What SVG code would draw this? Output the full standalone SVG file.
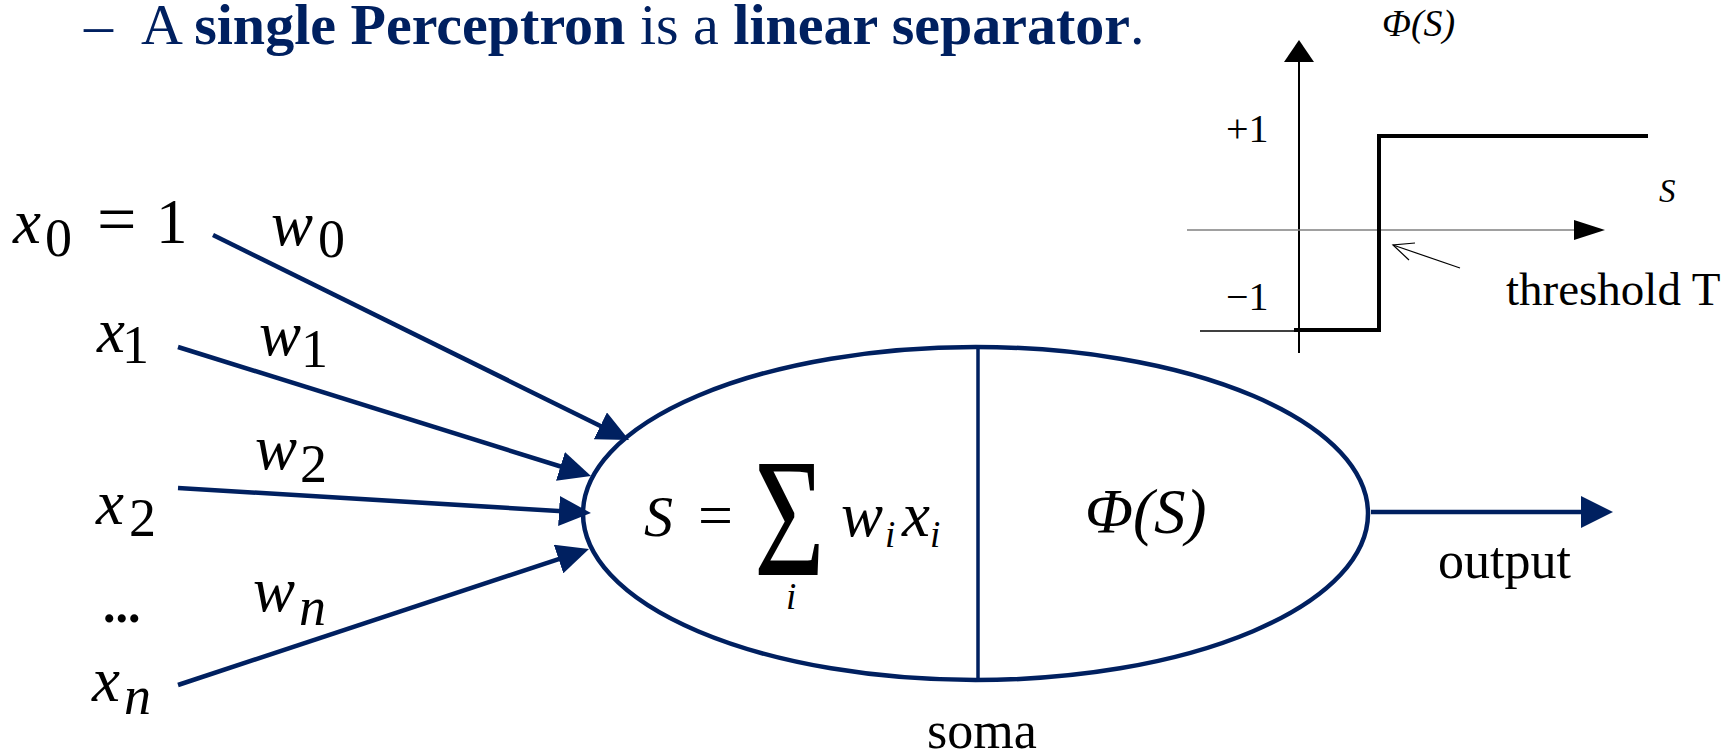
<svg xmlns="http://www.w3.org/2000/svg" width="1735" height="756" viewBox="0 0 1735 756">
<style>
.title{font-family:"Liberation Serif",serif;font-size:58px;fill:#002060}
.b{font-weight:bold}
.m{font-family:"Liberation Serif",serif;font-style:italic;font-size:63px;fill:#000}
.u{font-family:"Liberation Serif",serif;font-size:63px;fill:#000}
.s{font-family:"Liberation Serif",serif;font-size:54px;fill:#000}
.si{font-family:"Liberation Serif",serif;font-style:italic;font-size:54px;fill:#000}
.fi{font-family:"Liberation Serif",serif;font-style:italic;font-size:37px;fill:#000}
.lbl{font-family:"Liberation Serif",serif;font-size:52px;fill:#000}
.conn{stroke:#002060;stroke-width:4.5;fill:none}
.ax{stroke:#000;stroke-width:2;fill:none}
</style>
<defs>
<marker id="ah" markerUnits="userSpaceOnUse" markerWidth="32" markerHeight="30" refX="12" refY="15" orient="auto"><path d="M0,0 L32,15 L0,30 z" fill="#002060"/></marker>
<marker id="ah2" markerUnits="userSpaceOnUse" markerWidth="32" markerHeight="32" refX="12" refY="16" orient="auto"><path d="M0,0 L32,16 L0,32 z" fill="#002060"/></marker>
</defs>
<rect width="1735" height="756" fill="#fff"/>
<g id="title">
<text class="title" x="84" y="44">–</text>
<text class="title" x="141" y="44">A <tspan class="b">single Perceptron</tspan> is a <tspan class="b">linear separator</tspan>.</text>
</g>
<g id="connectors">
<line class="conn" x1="213" y1="235" x2="611.1" y2="431.2" marker-end="url(#ah)"/>
<line class="conn" x1="178" y1="347" x2="571.9" y2="470" marker-end="url(#ah)"/>
<line class="conn" x1="178" y1="488" x2="571" y2="511.8" marker-end="url(#ah)"/>
<line class="conn" x1="178" y1="685" x2="570" y2="555.3" marker-end="url(#ah)"/>
<line class="conn" x1="1371" y1="512" x2="1593" y2="512" marker-end="url(#ah2)"/>
</g>
<g id="input-x0">
<text class="m" x="13" y="243">x</text><text class="s" x="45" y="256">0</text>
<text class="u" x="97" y="243" style="font-size:70px">=</text><text class="u" x="156" y="243">1</text>
</g>
<g id="input-x1"><text class="m" x="97" y="352">x</text><text class="s" x="122" y="363">1</text></g>
<g id="input-x2"><text class="m" x="96" y="524">x</text><text class="s" x="129" y="536">2</text></g>
<g id="input-dots"><text x="103" y="622" style="font-family:'Liberation Serif',serif;font-weight:bold;font-size:50px">...</text></g>
<g id="input-xn"><text class="m" x="92" y="701">x</text><text class="si" x="124" y="714">n</text></g>
<g id="weight-w0"><text class="m" x="271" y="245">w</text><text class="s" x="318" y="257">0</text></g>
<g id="weight-w1"><text class="m" x="259" y="355">w</text><text class="s" x="301" y="367">1</text></g>
<g id="weight-w2"><text class="m" x="255" y="469">w</text><text class="s" x="300" y="482">2</text></g>
<g id="weight-wn"><text class="m" x="253" y="611">w</text><text class="si" x="299" y="625">n</text></g>
<g id="soma">
<ellipse cx="975.5" cy="513.5" rx="392.5" ry="166.5" fill="none" stroke="#002060" stroke-width="4.5"/>
<line x1="978" y1="347" x2="978" y2="680" stroke="#002060" stroke-width="3.5"/>
<text class="m" x="644" y="536" style="font-size:58px">S</text>
<text class="u" x="698" y="536" style="font-size:62px">=</text>
<text transform="translate(754,575) scale(0.72,1)" style="font-family:'Liberation Serif',serif;font-size:169px">Σ</text>
<text class="fi" x="786" y="609">i</text>
<text class="m" x="841" y="536">w</text><text class="fi" x="885" y="547">i</text>
<text class="m" x="902" y="536">x</text><text class="fi" x="930" y="547">i</text>
<text class="m" x="1085" y="533">Φ(S)</text>
<text class="lbl" x="927" y="748">soma</text>
</g>
<g id="output-label"><text class="lbl" x="1438" y="578">output</text></g>
<g id="graph">
<line class="ax" x1="1299" y1="353" x2="1299" y2="60"/>
<polygon points="1299,40 1284,62 1314,62" fill="#000"/>
<line x1="1187" y1="230" x2="1575" y2="230" stroke="#808080" stroke-width="1.3"/>
<polygon points="1605,230 1574,220 1574,240" fill="#000"/>
<line x1="1200" y1="331" x2="1296" y2="331" stroke="#000" stroke-width="1.5"/>
<polyline points="1294,330 1379,330 1379,136 1648,136" fill="none" stroke="#000" stroke-width="4"/>
<line x1="1460" y1="268" x2="1393" y2="245" stroke="#000" stroke-width="1.2"/>
<polyline points="1409,260 1393,245 1415,243" fill="none" stroke="#000" stroke-width="1.2"/>
<text x="1382" y="36" style="font-family:'Liberation Serif',serif;font-style:italic;font-size:38px">Φ(S)</text>
<text x="1226" y="142" style="font-family:'Liberation Serif',serif;font-size:40px">+1</text>
<text x="1226" y="310" style="font-family:'Liberation Serif',serif;font-size:40px">−1</text>
<text x="1659" y="202" style="font-family:'Liberation Serif',serif;font-style:italic;font-size:33px">S</text>
<text x="1506" y="305" style="font-family:'Liberation Serif',serif;font-size:47px">threshold T</text>
</g>
</svg>
